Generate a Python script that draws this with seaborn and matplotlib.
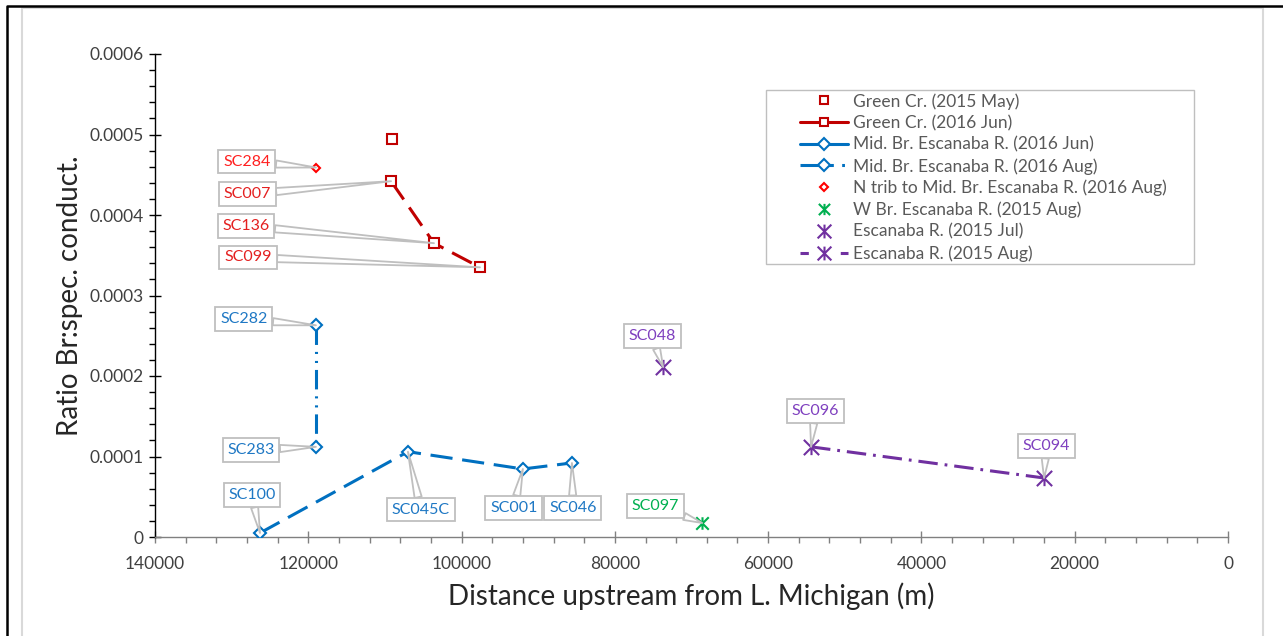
import pandas as pd
import seaborn as sns
import matplotlib.pyplot as plt
from matplotlib.lines import Line2D
from matplotlib.path import Path
from matplotlib.patches import Rectangle
from matplotlib.ticker import MultipleLocator, FuncFormatter

# distance upstream from L. Michigan (m) and Br : spec. conductance ratio
green_may_x = [109100]
green_may_y = [0.000495]
green_jun_x = [109200, 103600, 97600]
green_jun_y = [0.000442, 0.000365, 0.000335]
green_jun_ids = ["SC007", "SC136", "SC099"]
midbr_jun_x = [126300, 107000, 92000, 85600]
midbr_jun_y = [0.000005, 0.000106, 0.0000845, 0.000092]
midbr_jun_ids = ["SC100", "SC045C", "SC001", "SC046"]
midbr_aug_x = [119000, 119000]
midbr_aug_y = [0.000263, 0.000112]
midbr_aug_ids = ["SC282", "SC283"]
ntrib_x = [119000]
ntrib_y = [0.000459]
ntrib_ids = ["SC284"]
wbr_x = [68600]
wbr_y = [0.0000174]
wbr_ids = ["SC097"]
esc_jul_x = [73700]
esc_jul_y = [0.000211]
esc_jul_ids = ["SC048"]
esc_aug_x = [54400, 24000]
esc_aug_y = [0.000112, 0.0000733]
esc_aug_ids = ["SC096", "SC094"]

# callout box offsets from the point, in pixels
label_offsets = {
    "SC284": (-69, 6), "SC007": (-144, -13), "SC136": (-188, 17), "SC099": (-232, 10),
    "SC282": (-72, 6), "SC283": (-65, -3), "SC100": (-8, 38), "SC045C": (13, -58),
    "SC001": (-9, -39), "SC046": (1, -45), "SC097": (-47, 17), "SC048": (-11, 31),
    "SC096": (4, 36), "SC094": (2, 32),
}

W, H = 1283, 636
sns.set_style("ticks")
plt.rcParams["font.family"] = ["Lato", "DejaVu Sans"]
plt.rcParams["lines.scale_dashes"] = False

fig = plt.figure(figsize=(W / 100, H / 100), dpi=100)
ax = fig.add_axes([155 / W, (H - 537) / H, (1228 - 155) / W, (537 - 54) / H])

star = Path([(0, -1), (0, 1), (-1, -1), (1, 1), (-1, 1), (1, -1)],
            [Path.MOVETO, Path.LINETO] * 3)

dark_red = "#C00000"
blue = "#0070C0"
red = "#FF0000"
green = "#00B050"
purple = "#7030A0"
long_dash = (0, (16, 7))
dash_dot_dot = (0, (14, 5, 1.5, 5, 1.5, 5))
dash_dot = (0, (14, 5, 2, 5))

# (legend label, x, y, ids, colour, label colour, marker, size, plot ls, legend ls)
series = [
    ("Green Cr. (2015 May)", green_may_x, green_may_y, [], dark_red, "#E42020", "s", 7, "none", "none"),
    ("Green Cr. (2016 Jun)", green_jun_x, green_jun_y, green_jun_ids, dark_red, "#E42020", "s", 7, long_dash, "-"),
    ("Mid. Br. Escanaba R. (2016 Jun)", midbr_jun_x, midbr_jun_y, midbr_jun_ids, blue, "#1F78C4", "D", 6.5, long_dash, "-"),
    ("Mid. Br. Escanaba R. (2016 Aug)", midbr_aug_x, midbr_aug_y, midbr_aug_ids, blue, "#1F78C4", "D", 6.5, dash_dot_dot, (0, (24, 6, 2, 50))),
    ("N trib to Mid. Br. Escanaba R. (2016 Aug)", ntrib_x, ntrib_y, ntrib_ids, red, "#FF2020", "D", 4, "none", "none"),
    ("W Br. Escanaba R. (2015 Aug)", wbr_x, wbr_y, wbr_ids, green, "#00B050", star, 9, "none", "none"),
    ("Escanaba R. (2015 Jul)", esc_jul_x, esc_jul_y, esc_jul_ids, purple, "#7F40BF", star, 11, "none", "none"),
    ("Escanaba R. (2015 Aug)", esc_aug_x, esc_aug_y, esc_aug_ids, purple, "#7F40BF", star, 11, dash_dot, (0, (6, 23))),
]

handles = []
for name, xs, ys, ids, col, tcol, mk, ms, ls, leg_ls in series:
    df = pd.DataFrame({"x": xs, "y": ys})
    face = "none" if mk is star else "white"
    sns.lineplot(data=df, x="x", y="y", ax=ax, estimator=None, sort=False,
                 color=col, linestyle=ls, linewidth=2.2, marker=mk,
                 markersize=ms, markerfacecolor=face, markeredgecolor=col,
                 markeredgewidth=1.5, legend=False, zorder=3)
    handles.append(Line2D([], [], color=col, linestyle=leg_ls, linewidth=2.2,
                          marker=mk, markersize=ms * 0.9, markerfacecolor=face,
                          markeredgecolor=col, markeredgewidth=1.5, label=name))
    for sid, xv, yv in zip(ids, xs, ys):
        ax.annotate(sid, xy=(xv, yv), xytext=label_offsets[sid],
                    textcoords="offset pixels", ha="center", va="center",
                    fontsize=11.5, color=tcol, zorder=5,
                    bbox=dict(boxstyle="square,pad=0.3", fc="white", ec="#BFBFBF", lw=1.3),
                    arrowprops=dict(arrowstyle="wedge,tail_width=0.45", fc="white",
                                    ec="#BFBFBF", lw=1.3, shrinkA=0, shrinkB=0))

ax.set_xlim(140000, 0)
ax.set_ylim(0, 0.0006)
ax.xaxis.set_major_locator(MultipleLocator(20000))
ax.xaxis.set_minor_locator(MultipleLocator(4000))
ax.yaxis.set_major_locator(MultipleLocator(0.0001))
ax.yaxis.set_minor_locator(MultipleLocator(0.00002))
ax.xaxis.set_major_formatter(FuncFormatter(lambda v, p: f"{v:.0f}"))
ax.yaxis.set_major_formatter(FuncFormatter(lambda v, p: "0" if abs(v) < 1e-12 else f"{v:.4f}"))
ax.tick_params(axis="both", which="major", direction="inout", length=9, width=1,
               labelsize=12.5, labelcolor="#404040")
ax.tick_params(axis="both", which="minor", direction="out", length=4, width=1)
ax.tick_params(axis="x", which="both", color="#808080")
ax.tick_params(axis="x", which="major", pad=9)
ax.tick_params(axis="y", which="both", color="black")
for s in ["top", "right"]:
    ax.spines[s].set_visible(False)
ax.spines["left"].set_color("black")
ax.spines["bottom"].set_color("#808080")
ax.spines["left"].set_linewidth(1)
ax.spines["bottom"].set_linewidth(1)

ax.set_xlabel("Distance upstream from L. Michigan (m)", fontsize=20, color="#262626", labelpad=8)
ax.set_ylabel("Ratio Br:spec. conduct.", fontsize=20, color="#262626", labelpad=5)

fig.legend(handles=handles, loc="upper left", bbox_to_anchor=(800 / W, 1 - 93 / H),
           frameon=False, fontsize=12.5, labelcolor="#595959", handlelength=2.76,
           handletextpad=0.3, borderpad=0, borderaxespad=0, labelspacing=0.31)
fig.add_artist(Rectangle((766 / W, 1 - 264 / H), (1194 - 766) / W, (264 - 90) / H,
                         transform=fig.transFigure, fill=False, ec="#BFBFBF", lw=1))

# page frame around the chart
fig.add_artist(Line2D([22 / W, 22 / W, 1263 / W, 1263 / W], [0, 1 - 8 / H, 1 - 8 / H, 0],
                      transform=fig.transFigure, color="#D9D9D9", lw=1.5))
fig.add_artist(Line2D([7 / W, 7 / W, 1], [0, 1 - 6 / H, 1 - 6 / H],
                      transform=fig.transFigure, color="black", lw=1.8))

fig.savefig("out.png", dpi=100)
